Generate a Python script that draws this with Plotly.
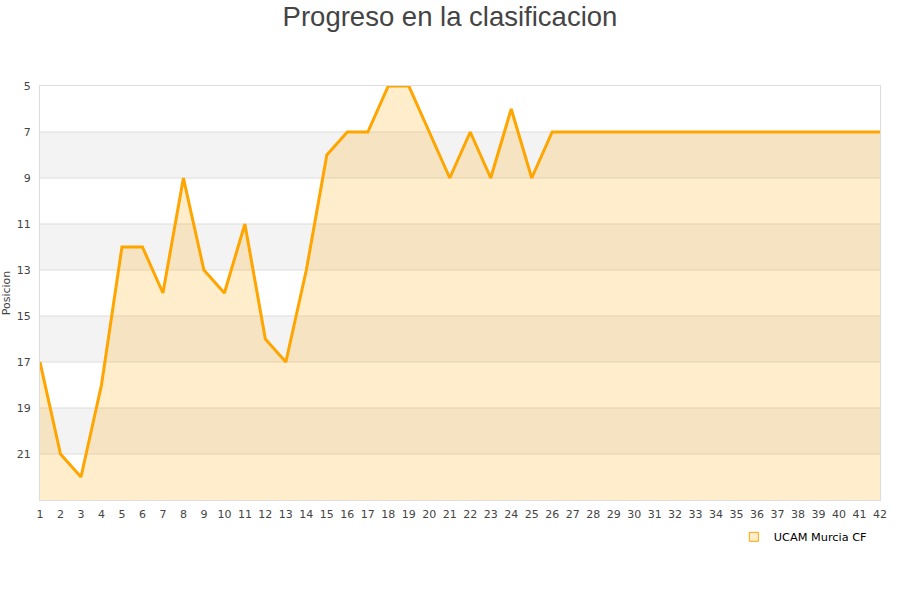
import plotly.graph_objects as go

jornadas = list(range(1, 43))
posiciones = [17, 21, 22, 18, 12, 12, 14, 9, 13, 14, 11, 16, 17, 13, 8, 7, 7, 5, 5, 7,
              9, 7, 9, 6, 9, 7] + [7] * 16
y_ticks = [5, 7, 9, 11, 13, 15, 17, 19, 21]
y_min, y_max = 5, 23
equipo = "UCAM Murcia CF"

fig = go.Figure()
fig.add_trace(go.Scatter(x=jornadas, y=[y_max] * len(jornadas), mode="lines",
                         line=dict(width=0), showlegend=False, hoverinfo="skip"))
fig.add_trace(go.Scatter(x=jornadas, y=posiciones, mode="lines", name=equipo,
                         line=dict(color="#FFA500", width=3), showlegend=False,
                         fill="tonexty", fillcolor="rgba(255,165,0,0.2)"))
fig.add_trace(go.Scatter(x=[None], y=[None], mode="markers", name=equipo,
                         marker=dict(symbol="square", size=9, color="#FFEDCC",
                                     line=dict(color="#FFA500", width=1))))

shapes = []
for i, t in enumerate(y_ticks):
    if i % 2 == 1:
        shapes.append(dict(type="rect", xref="paper", yref="y", x0=0, x1=1,
                           y0=t, y1=t + 2, fillcolor="#F3F3F3", line=dict(width=0),
                           layer="below"))
for t in y_ticks[1:]:
    shapes.append(dict(type="line", xref="paper", yref="y", x0=0, x1=1,
                       y0=t, y1=t, line=dict(color="#DDDDDD", width=1), layer="below"))

fig.update_layout(
    width=900, height=600,
    margin=dict(l=40, r=20, t=86, b=100),
    paper_bgcolor="white", plot_bgcolor="white",
    title=dict(text="Progreso en la clasificacion", x=0.5, xanchor="center",
               y=0.973, yanchor="middle",
               font=dict(family="Liberation Sans, Arial", size=27.5, color="#444444")),
    shapes=shapes,
    showlegend=True,
    legend=dict(orientation="h", x=0.826, y=-0.089, xanchor="left", yanchor="middle",
                font=dict(family="DejaVu Sans", size=11.3, color="#000000"),
                bgcolor="rgba(0,0,0,0)"),
    font=dict(family="DejaVu Sans", size=11, color="#444444"),
)
fig.update_xaxes(range=[1, 42], tickmode="array", tickvals=jornadas,
                 ticktext=[str(j) for j in jornadas], showgrid=False, zeroline=False,
                 showline=True, mirror=True, linecolor="#DDDDDD", linewidth=1,
                 ticks="", automargin=False, ticklabelstandoff=4,
                 tickfont=dict(size=11, color="#444444"))
fig.update_yaxes(range=[y_max, y_min], tickmode="array", tickvals=y_ticks,
                 showgrid=False, zeroline=False, showline=True, mirror=True,
                 linecolor="#DDDDDD", linewidth=1, ticks="", automargin=False,
                 ticklabelstandoff=6,
                 title=dict(text="Posicion", font=dict(size=11, color="#444444"), standoff=6),
                 tickfont=dict(size=11, color="#444444"))

fig.write_html("out.html", config={"displayModeBar": False},
               post_script="document.body.style.margin='0px';")
